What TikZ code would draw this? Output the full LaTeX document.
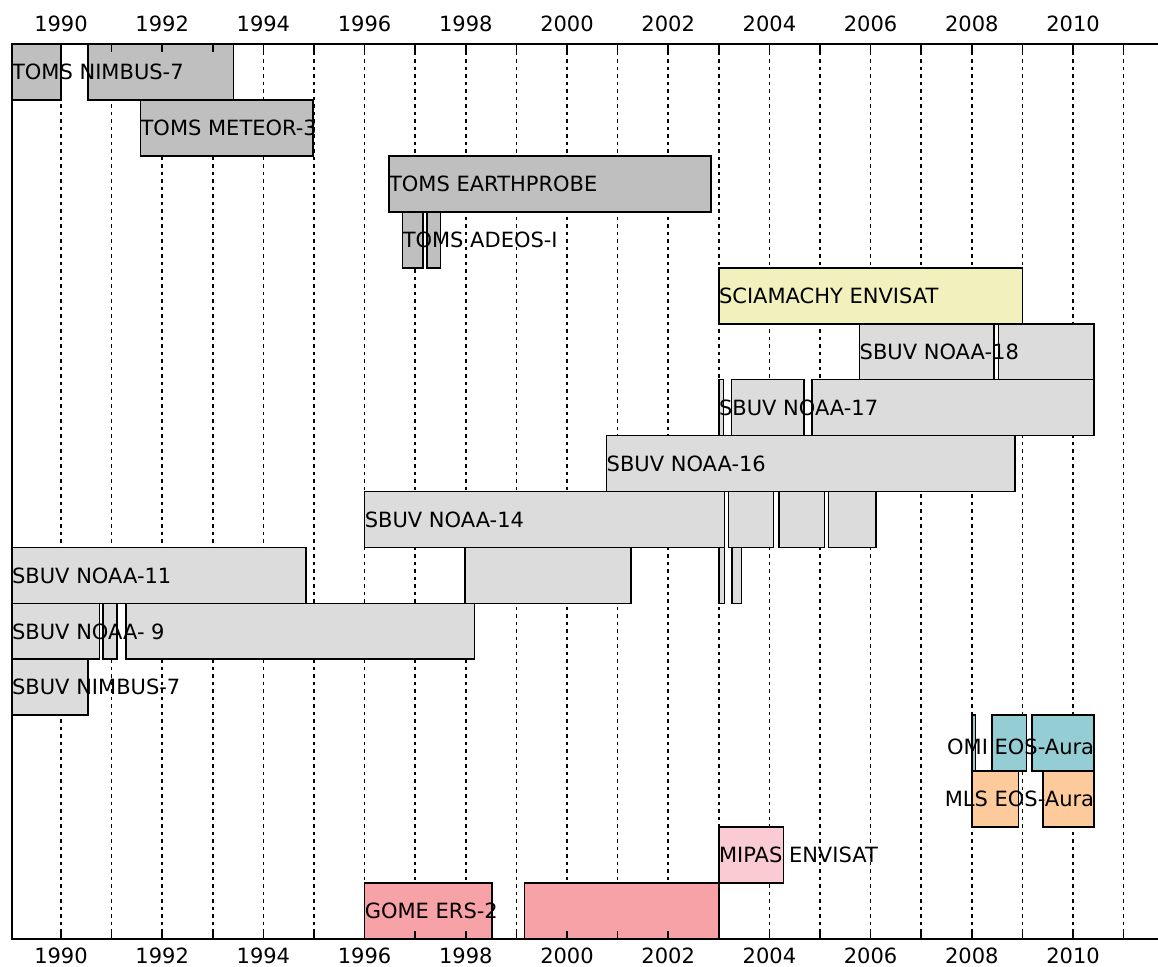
\documentclass[tikz,border=0pt]{standalone}
\usepackage{fontspec}
\setmainfont{DejaVu Sans}
\definecolor{tomsgray}{HTML}{BFBFBF}
\definecolor{sbuvgray}{HTML}{DCDCDC}
\definecolor{sciayellow}{HTML}{F2F0BC}
\definecolor{omiteal}{HTML}{94CDD3}
\definecolor{mlsorange}{HTML}{FDCB9B}
\definecolor{mipaspink}{HTML}{FBCBD3}
\definecolor{gomesalmon}{HTML}{F6A2A7}
\tikzset{
  plotfont/.style={font=\fontsize{21bp}{24bp}\selectfont},
  bar/.style={draw=black, line width=1.7bp},
  tomsbar/.style={bar, fill=tomsgray},
  sbuvbar/.style={bar, fill=sbuvgray},
  sciabar/.style={bar, fill=sciayellow},
  omibar/.style={bar, fill=omiteal},
  mlsbar/.style={bar, fill=mlsorange},
  mipasbar/.style={bar, fill=mipaspink},
  gomebar/.style={bar, fill=gomesalmon},
  lab/.style={plotfont, anchor=west, inner sep=0pt, text height=15.3bp, text depth=0pt},
  labr/.style={lab, anchor=east},
  yearlab/.style={plotfont, inner sep=0pt, text height=15.3bp, text depth=0pt},
  gridln/.style={line width=1.6bp, dash pattern=on 3.5bp off 4bp},
  spine/.style={line width=1.8bp},
  ticklin/.style={line width=1.5bp},
}
\begin{document}
\begin{tikzpicture}
\useasboundingbox (0,0) rectangle (1158bp,-967bp);
\begin{scope}[shift={(61bp,-44bp)}, x=50.6bp, y=-55.94bp]
  % grid
  \foreach \k in {0,...,21} \draw[gridln] (\k,0) -- (\k,16);
  % TOMS
  \foreach \a/\b/\r in {-0.97/0/0, 0.53/3.41/0, 1.57/4.98/1, 6.48/12.84/2, 6.75/7.16/3, 7.24/7.50/3}
    \draw[tomsbar] (\a,\r) rectangle (\b,{\r+1});
  % SCIAMACHY
  \draw[sciabar] (13.0,4) rectangle (19.0,5);
  % SBUV
  \foreach \a/\b/\r in {15.78/18.44/5, 18.53/20.42/5,
      13.0/13.09/6, 13.25/14.69/6, 14.84/20.42/6,
      10.78/18.85/7,
      6.0/13.11/8, 13.19/14.08/8, 14.19/15.09/8, 15.17/16.11/8,
      -0.97/4.84/9, 7.98/11.26/9, 13.0/13.11/9, 13.26/13.45/9,
      -0.97/0.76/10, 0.83/1.10/10, 1.28/8.17/10,
      -0.97/0.53/11}
    \draw[sbuvbar] (\a,\r) rectangle (\b,{\r+1});
  % OMI
  \foreach \a/\b in {18.0/18.07, 18.4/19.08, 19.19/20.42}
    \draw[omibar] (\a,12) rectangle (\b,13);
  % MLS
  \foreach \a/\b in {18.0/18.92, 19.41/20.42}
    \draw[mlsbar] (\a,13) rectangle (\b,14);
  % MIPAS
  \draw[mipasbar] (13.0,14) rectangle (14.28,15);
  % GOME
  \foreach \a/\b in {6.0/8.52, 9.16/13.0}
    \draw[gomebar] (\a,15) rectangle (\b,16);
  % ticks
  \foreach \k in {0,...,21} {
    \draw[ticklin] (\k,0) -- (\k,0.143);
    \draw[ticklin] (\k,16) -- (\k,15.857);
  }
  % spines
  \draw[spine] (21.7,0) -- (-0.97,0) -- (-0.97,16) -- (21.7,16);
  % year labels
  \foreach \k in {0,2,...,20} {
    \pgfmathtruncatemacro\yy{1990+\k}
    \node[yearlab, anchor=south] (yt\k) at (\k,-0.2145) {\yy};
    \node[yearlab, anchor=north] (yb\k) at (\k,16.16) {\yy};
  }
  % bar labels
  \node[lab] (l0) at (-0.97,0.5) {TOMS NIMBUS-7};
  \node[lab] (l1) at (1.57,1.5) {TOMS METEOR-3};
  \node[lab] (l2) at (6.48,2.5) {TOMS EARTHPROBE};
  \node[lab] (l3) at (6.75,3.5) {TOMS ADEOS-I};
  \node[lab] (l4) at (13.0,4.5) {SCIAMACHY ENVISAT};
  \node[lab] (l5) at (15.78,5.5) {SBUV NOAA-18};
  \node[lab] (l6) at (13.0,6.5) {SBUV NOAA-17};
  \node[lab] (l7) at (10.78,7.5) {SBUV NOAA-16};
  \node[lab] (l8) at (6.0,8.5) {SBUV NOAA-14};
  \node[lab] (l9) at (-0.97,9.5) {SBUV NOAA-11};
  \node[lab] (l10) at (-0.97,10.5) {SBUV NOAA- 9};
  \node[lab] (l11) at (-0.97,11.5) {SBUV NIMBUS-7};
  \node[labr] (l12) at (20.42,12.56) {OMI EOS-Aura};
  \node[labr] (l13) at (20.42,13.5) {MLS EOS-Aura};
  \node[lab] (l14) at (13.0,14.5) {MIPAS ENVISAT};
  \node[lab] (l15) at (6.0,15.5) {GOME ERS-2};
\end{scope}
\end{tikzpicture}
\end{document}
